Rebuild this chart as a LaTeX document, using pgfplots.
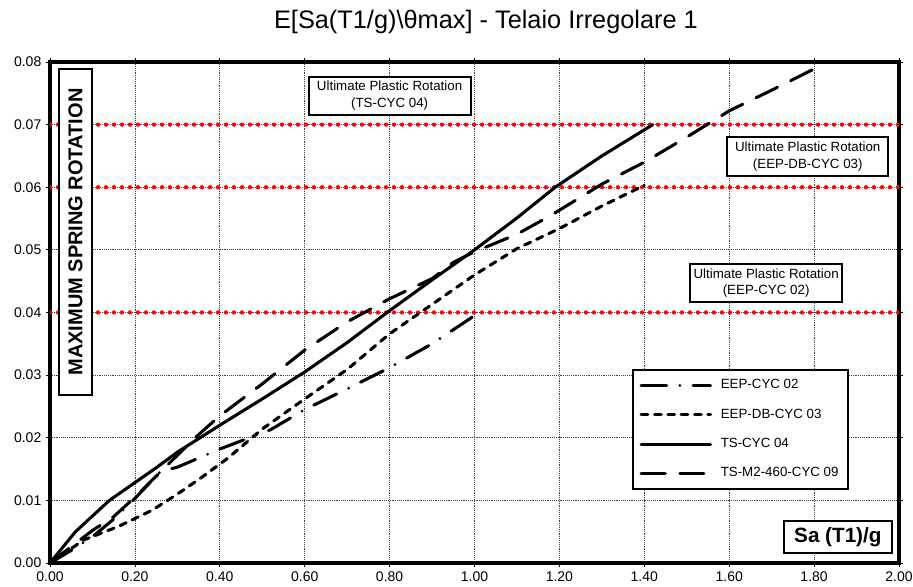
\documentclass[border=0pt]{standalone}
\usepackage{fontspec}
\setmainfont{Liberation Sans}
\usepackage{pgfplots}
\pgfplotsset{compat=1.18}
\begin{document}
\begin{tikzpicture}
\useasboundingbox (-37.5pt,-17.25pt) rectangle (647.25pt,422.25pt);
\begin{axis}[
  at={(0,0)}, anchor=south west,
  scale only axis, width=636.75pt, height=375.75pt,
  xmin=0, xmax=2, ymin=0, ymax=0.08,
  xtick={0,0.2,...,2.01}, ytick={0,0.01,...,0.081},
  scaled x ticks=false, scaled y ticks=false,
  /pgf/number format/.cd, fixed, fixed zerofill, precision=2, assume math mode=true, /pgfplots/.cd,
  tick label style={font=\fontsize{10.5}{12}\selectfont},
  tick align=outside, major tick length=3pt,
  tick style={black, line width=0.6pt},
  xmajorgrids, ymajorgrids,
  grid style={densely dotted, black!75, line width=0.6pt},
  axis line style={line width=2.8pt},
  axis background/.style={fill=white},
  title={E[Sa(T1/g)\textbackslash θmax] - Telaio Irregolare 1},
  title style={at={(0.5135,1)}, anchor=base, yshift=19.5pt, font=\fontsize{19}{21}\selectfont},
  legend cell align=left,
  legend style={at={(0.941,0.387)}, anchor=north east, draw=black, line width=1.5pt, fill=white,
    inner xsep=5pt, inner ysep=5pt, row sep=9pt,
    nodes={font=\fontsize{10}{11}\selectfont, text height=7pt, text depth=2pt, inner sep=2pt}},
  legend image code/.code={\draw[#1] (0pt,0pt) -- (52pt,0pt); \path (56.5pt,0pt);},
  every axis plot/.append style={line cap=round, line join=round},
]
% red limit lines
\addplot[forget plot, red, line width=3.2pt, dash pattern=on 0pt off 6pt, line cap=round] coordinates {(0,0.07) (2,0.07)};
\addplot[forget plot, red, line width=3.2pt, dash pattern=on 0pt off 6pt, line cap=round] coordinates {(0,0.06) (2,0.06)};
\addplot[forget plot, red, line width=3.2pt, dash pattern=on 0pt off 6pt, line cap=round] coordinates {(0,0.04) (2,0.04)};

\addplot[black, line width=2.3pt, dash pattern=on 19pt off 10pt on 0pt off 10pt] coordinates {
(0,0) (0.05,0.002) (0.1,0.0042) (0.15,0.007) (0.2,0.0103) (0.26,0.0146) (0.3,0.0153) (0.4,0.0182) (0.52,0.0213) (0.6,0.0245) (0.7,0.0278) (0.8,0.0312) (0.9,0.035) (1.0,0.0395)};
\addlegendentry{EEP-CYC 02}

\addplot[black, line width=2.3pt, dash pattern=on 5pt off 5pt] coordinates {
(0,0) (0.08,0.0037) (0.16,0.0058) (0.24,0.0084) (0.3,0.011) (0.36,0.0138) (0.42,0.0168) (0.5,0.0214) (0.6,0.0262) (0.7,0.0309) (0.8,0.0366) (0.9,0.0413) (1.0,0.046) (1.1,0.0502) (1.2,0.0534) (1.3,0.057) (1.4,0.0603)};
\addlegendentry{EEP-DB-CYC 03}

\addplot[black, line width=2.3pt] coordinates {
(0,0) (0.06,0.005) (0.14,0.01) (0.25,0.0152) (0.3,0.0177) (0.4,0.022) (0.5,0.0262) (0.6,0.0305) (0.7,0.0352) (0.8,0.0403) (0.9,0.0452) (1.0,0.05) (1.1,0.0551) (1.19,0.06) (1.3,0.065) (1.42,0.07)};
\addlegendentry{TS-CYC 04}

\addplot[black, line width=2.3pt, dash pattern=on 18pt off 11pt] coordinates {
(0,0) (0.1,0.0052) (0.15,0.0074) (0.2,0.0105) (0.27,0.0152) (0.3,0.0172) (0.35,0.0205) (0.4,0.0235) (0.5,0.0286) (0.6,0.034) (0.7,0.0385) (0.8,0.0422) (0.9,0.0454) (0.95,0.048) (1.0,0.0497) (1.1,0.0525) (1.18,0.0555) (1.3,0.0605) (1.4,0.064) (1.5,0.068) (1.6,0.0722) (1.7,0.0755) (1.8,0.0789) (1.81,0.0793)};
\addlegendentry{TS-M2-460-CYC 09}

% annotation boxes
\node[draw, line width=1.4pt, fill=white, align=center, font=\fontsize{10}{12.5}\selectfont, minimum width=121.5pt, minimum height=28.5pt, inner sep=1pt] at (axis cs:0.8,0.0746) {Ultimate Plastic Rotation\\(TS-CYC 04)};
\node[draw, line width=1.4pt, fill=white, align=center, font=\fontsize{10}{12.5}\selectfont, minimum width=121pt, minimum height=29pt, inner sep=1pt] at (axis cs:1.785,0.0649) {Ultimate Plastic Rotation\\(EEP-DB-CYC 03)};
\node[draw, line width=1.4pt, fill=white, align=center, font=\fontsize{10}{12.5}\selectfont, minimum width=114pt, minimum height=29pt, inner sep=1pt] at (axis cs:1.687,0.0447) {Ultimate Plastic Rotation\\(EEP-CYC 02)};
\node[draw, line width=1.5pt, fill=white, rotate=90, font=\bfseries\fontsize{15}{18}\selectfont, minimum width=244.5pt, minimum height=24.75pt, inner sep=0pt] at (axis cs:0.06,0.05285) {MAXIMUM SPRING ROTATION};
\node[draw, line width=1.5pt, fill=white, font=\bfseries\fontsize{15.5}{18}\selectfont, minimum width=80.8pt, minimum height=24pt, inner sep=0pt] at (axis cs:1.856,0.00415) {Sa (T1)/g};
\end{axis}
\end{tikzpicture}
\end{document}
